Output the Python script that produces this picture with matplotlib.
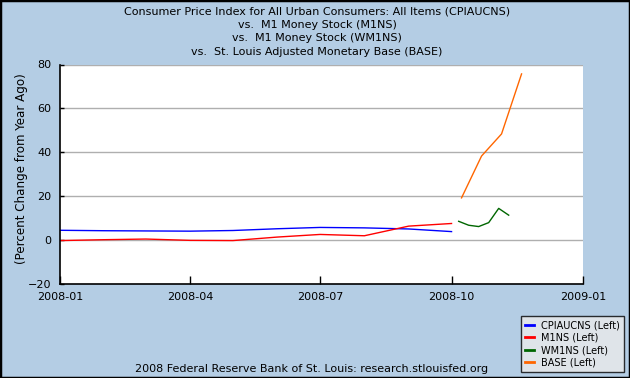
import matplotlib
matplotlib.use("Agg")
import matplotlib.pyplot as plt
import matplotlib.dates as mdates
import numpy as np
from matplotlib.lines import Line2D

# ---------------- data ----------------
monthly_dates = ["2008-01-01", "2008-02-01", "2008-03-01", "2008-04-01", "2008-05-01",
                 "2008-06-01", "2008-07-01", "2008-08-01", "2008-09-01", "2008-10-01"]
cpi_values = [4.3, 4.1, 4.0, 3.9, 4.2, 5.0, 5.6, 5.4, 4.9, 3.7]
m1ns_values = [-0.4, 0.0, 0.3, -0.3, -0.4, 1.2, 2.4, 1.8, 6.2, 7.4]

wm1ns_dates = ["2008-10-06", "2008-10-13", "2008-10-20", "2008-10-27", "2008-11-03", "2008-11-10"]
wm1ns_values = [8.4, 6.6, 6.0, 7.8, 14.3, 11.2]

base_dates = ["2008-10-08", "2008-10-22", "2008-11-05", "2008-11-19"]
base_values = [19.1, 38.2, 48.3, 75.7]

series_labels = ["CPIAUCNS (Left)", "M1NS (Left)", "WM1NS (Left)", "BASE (Left)"]
series_colors = ["#0000FF", "#FF0000", "#006600", "#FF6600"]

title_lines = ["Consumer Price Index for All Urban Consumers: All Items (CPIAUCNS)",
               "vs.  M1 Money Stock (M1NS)",
               "vs.  M1 Money Stock (WM1NS)",
               "vs.  St. Louis Adjusted Monetary Base (BASE)"]
y_label = "(Percent Change from Year Ago)"
footer = "2008 Federal Reserve Bank of St. Louis: research.stlouisfed.org"
x_ticks = ["2008-01-01", "2008-04-01", "2008-07-01", "2008-10-01", "2009-01-01"]
y_ticks = [-20, 0, 20, 40, 60, 80]

# ---------------- figure ----------------
W, H = 630, 378
bg = "#B4CDE4"
fs = 8.0
fig = plt.figure(figsize=(W / 100, H / 100), dpi=100, facecolor=bg)

left, right, top, bottom = 60, 583, 64.5, 283.5
ax = fig.add_axes([left / W, 1 - bottom / H, (right - left) / W, (bottom - top) / H])
ax.set_facecolor("white")

to_dt = lambda lst: np.array(lst, dtype="datetime64[D]")

ax.plot(to_dt(monthly_dates), cpi_values, color=series_colors[0], lw=1.0)
ax.plot(to_dt(monthly_dates), m1ns_values, color=series_colors[1], lw=1.0)
ax.plot(to_dt(wm1ns_dates), wm1ns_values, color=series_colors[2], lw=1.0)
ax.plot(to_dt(base_dates), base_values, color=series_colors[3], lw=1.0)

ax.set_xlim(to_dt(["2008-01-01"])[0], to_dt(["2009-01-01"])[0])
ax.set_ylim(-20, 80)
ax.set_yticks(y_ticks)
ax.set_xticks(to_dt(x_ticks))
ax.xaxis.set_major_formatter(mdates.DateFormatter("%Y-%m"))

for v in [0, 20, 40, 60, 80]:
    ax.axhline(v, color="#AFAFAF", lw=1.0, zorder=0)

for s in ["top", "right"]:
    ax.spines[s].set_visible(False)
for s in ["left", "bottom"]:
    ax.spines[s].set_color("black")
    ax.spines[s].set_linewidth(1.2)

ax.tick_params(axis="y", direction="in", length=3, width=1, labelsize=fs, pad=6)
ax.tick_params(axis="x", direction="in", length=6, width=1, labelsize=fs, pad=6)

fig.text(22 / W, 1 - 169 / H, y_label, rotation=90, ha="center", va="center", fontsize=8.6)

for i, line in enumerate(title_lines):
    fig.text(317 / W, 1 - (11 + 13.7 * i) / H, line, ha="center", va="center", fontsize=fs)

fig.text(312 / W, 1 - 369 / H, footer, ha="center", va="center", fontsize=fs)

handles = [Line2D([0], [0], color=c, lw=2) for c in series_colors]
leg = fig.legend(handles, series_labels, loc="upper left",
                 bbox_to_anchor=(521 / W, 1 - 316 / H), fontsize=7,
                 frameon=True, fancybox=False, facecolor="#EBEBEB", edgecolor="black",
                 handlelength=0.9, handletextpad=0.7, labelspacing=0.25,
                 borderpad=0.45, borderaxespad=0)
leg.get_frame().set_linewidth(1.0)

# outer black border
fig.add_artist(plt.Rectangle((0, 0), 1, 1, transform=fig.transFigure, fill=False,
                             edgecolor="black", lw=2.5, zorder=10))

fig.savefig("out.png", dpi=100, facecolor=bg)
